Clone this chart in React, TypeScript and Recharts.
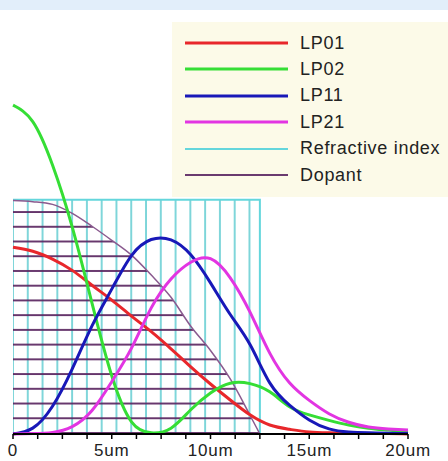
import { Area, ComposedChart, Line, XAxis, YAxis } from "recharts";

// radial position (um) sampled every 1um
const radius = [0, 1, 2, 3, 4, 5, 6, 7, 8, 9, 10, 11, 12, 13, 14, 15, 16, 17, 18, 19, 20];
const lp01 = [0.478, 0.468, 0.448, 0.419, 0.381, 0.343, 0.302, 0.262, 0.218, 0.172, 0.128, 0.087, 0.049, 0.023, 0.012, 0.005, 0.003, 0.002, 0.001, 0.001, 0.0];
const lp02 = [0.842, 0.8, 0.689, 0.53, 0.335, 0.149, 0.031, 0.003, 0.015, 0.062, 0.105, 0.13, 0.129, 0.108, 0.07, 0.049, 0.035, 0.023, 0.015, 0.01, 0.005];
const lp11 = [0.0, 0.015, 0.071, 0.167, 0.277, 0.371, 0.457, 0.498, 0.497, 0.459, 0.387, 0.306, 0.229, 0.131, 0.074, 0.036, 0.013, 0.005, 0.003, 0.002, 0.001];
const lp21 = [0.0, 0.001, 0.004, 0.019, 0.06, 0.134, 0.22, 0.323, 0.397, 0.44, 0.449, 0.4, 0.312, 0.207, 0.131, 0.086, 0.052, 0.03, 0.018, 0.013, 0.01];

const indexRadius = [0, 12.5, 12.5, 20];
const refractiveIndex = [0.6, 0.6, 0, 0];

const dopantRadius = [0, 1, 2, 3, 4, 5, 6, 7, 8, 9, 10, 11, 12, 12.5];
const dopant = [0.598, 0.595, 0.588, 0.565, 0.532, 0.496, 0.458, 0.407, 0.35, 0.276, 0.214, 0.141, 0.048, 0.0];

const xTicks = [0, 1.25, 2.5, 3.75, 5, 6.25, 7.5, 8.75, 10, 11.25, 12.5, 13.75, 15, 16.25, 17.5, 18.75, 20];
const labelValues = [0, 5, 10, 15, 20];
const labelTexts = ["0", "5um", "10um", "15um", "20um"];
const yTicks = [0, 0.05, 0.1, 0.15, 0.2, 0.25, 0.3, 0.35, 0.4, 0.45, 0.5, 0.55, 0.6, 0.65, 0.7, 0.75, 0.8, 0.85, 0.9, 0.95, 1];

const legendItems = [
  { name: "LP01", color: "#e8272b", width: 3 },
  { name: "LP02", color: "#35de35", width: 3 },
  { name: "LP11", color: "#1818b8", width: 3 },
  { name: "LP21", color: "#e235e2", width: 3 },
  { name: "Refractive index", color: "#64d6dc", width: 2 },
  { name: "Dopant", color: "#6a3a6f", width: 2 },
];

const toPoints = (xs: number[], ys: number[]) => xs.map((x, i) => ({ x, v: ys[i] }));

const FONT = "'Liberation Sans', Arial, sans-serif";
const HATCH_V = 14.78;
const HATCH_H = 14.73;

function XTick(props: any) {
  const { x, y, payload } = props;
  const i = labelValues.indexOf(payload.value);
  if (i < 0) return <g />;
  return (
    <text x={x} y={y + 15} textAnchor="middle" fontFamily={FONT} fontSize={17} letterSpacing={0.8} fill="#222">
      {labelTexts[i]}
    </text>
  );
}

const NoTick = () => <g />;

export default function App() {
  return (
    <div style={{ position: "absolute", left: 0, top: 0, width: 448, height: 461, background: "#fff", overflow: "hidden" }}>
      <div style={{ position: "absolute", left: 0, top: 0, width: 448, height: 10, background: "#e2eefa" }} />
      <ComposedChart width={448} height={461} margin={{ top: 43.5, right: 40, bottom: 0, left: 13 }}>
        <defs>
          <pattern id="vhatch" patternUnits="userSpaceOnUse" x={12} y={0} width={HATCH_V} height={20}>
            <line x1={1} y1={0} x2={1} y2={20} stroke="#72d2d6" strokeWidth={1.8} />
          </pattern>
          <pattern id="hhatch" patternUnits="userSpaceOnUse" x={0} y={433 - 1 - 30 * HATCH_H} width={20} height={HATCH_H}>
            <line x1={0} y1={1} x2={20} y2={1} stroke="#5a2560" strokeWidth={1.8} />
          </pattern>
        </defs>
        <XAxis
          type="number"
          dataKey="x"
          domain={[0, 20]}
          ticks={xTicks}
          interval={0}
          height={27}
          tickSize={5}
          tickMargin={2}
          tickLine={{ stroke: "#000", strokeWidth: 1.5 }}
          axisLine={{ stroke: "#000", strokeWidth: 2 }}
          tick={<XTick />}
        />
        <YAxis
          type="number"
          domain={[0, 1]}
          ticks={yTicks}
          interval={0}
          width={0}
          tickSize={3}
          tickLine={{ stroke: "#000", strokeWidth: 1.5 }}
          axisLine={{ stroke: "#000", strokeWidth: 2 }}
          tick={<NoTick />}
        />
        <Area
          data={toPoints(indexRadius, refractiveIndex)}
          dataKey="v"
          type="linear"
          stroke="#64d6dc"
          strokeWidth={2}
          fill="url(#vhatch)"
          fillOpacity={1}
          baseValue={0}
          isAnimationActive={false}
        />
        <Area
          data={toPoints(dopantRadius, dopant)}
          dataKey="v"
          type="monotone"
          stroke="#8a5a8f"
          strokeWidth={1.5}
          fill="url(#hhatch)"
          fillOpacity={1}
          baseValue={0}
          isAnimationActive={false}
        />
        <Line data={toPoints(radius, lp01)} dataKey="v" type="natural" stroke="#e8272b" strokeWidth={3} dot={false} isAnimationActive={false} />
        <Line data={toPoints(radius, lp02)} dataKey="v" type="natural" stroke="#35de35" strokeWidth={3} dot={false} isAnimationActive={false} />
        <Line data={toPoints(radius, lp11)} dataKey="v" type="natural" stroke="#1818b8" strokeWidth={3} dot={false} isAnimationActive={false} />
        <Line data={toPoints(radius, lp21)} dataKey="v" type="natural" stroke="#e235e2" strokeWidth={3} dot={false} isAnimationActive={false} />
      </ComposedChart>
      <div style={{ position: "absolute", left: 172, top: 22, width: 276, height: 175, background: "#fcfae8" }}>
        {legendItems.map((item, i) => (
          <div key={item.name} style={{ position: "absolute", left: 0, top: 8 + i * 26.4, height: 26, display: "flex", alignItems: "center" }}>
            <svg width={128} height={26} style={{ display: "block" }}>
              <line x1={13} y1={13} x2={116} y2={13} stroke={item.color} strokeWidth={item.width} />
            </svg>
            <span style={{ fontFamily: FONT, fontSize: 18, letterSpacing: 0.7, color: "#222", whiteSpace: "nowrap" }}>{item.name}</span>
          </div>
        ))}
      </div>
    </div>
  );
}
